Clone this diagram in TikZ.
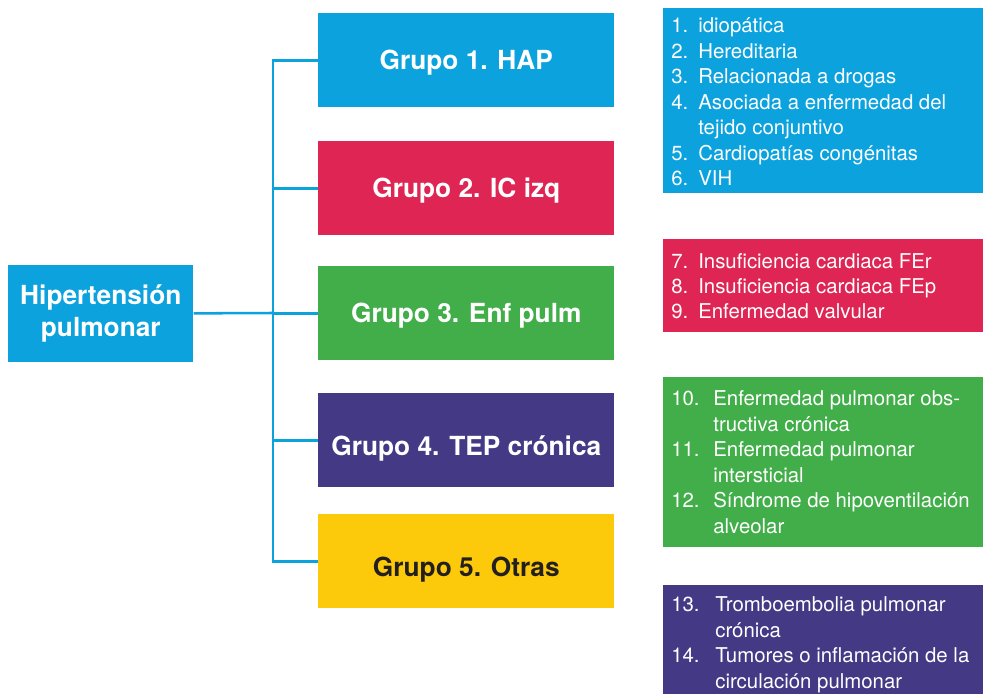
\documentclass[tikz,border=0pt]{standalone}
\usepackage{fontspec}
\setmainfont{TeX Gyre Heros}
\usepackage{array}
\definecolor{hapblue}{HTML}{0BA2DE}
\definecolor{hapred}{HTML}{DE2553}
\definecolor{hapgreen}{HTML}{41AE4A}
\definecolor{happurple}{HTML}{433985}
\definecolor{hapyellow}{HTML}{FCCA0A}
\definecolor{hapdark}{HTML}{231F20}
\tikzset{
  hbox/.style={rectangle, anchor=north west, inner sep=0pt, text=white, font=\fontsize{18.7}{22.5}\selectfont\bfseries},
  grp/.style={hbox, minimum width=7.4cm, minimum height=2.35cm, text height=18pt, text depth=4.5pt},
  lst/.style={rectangle, anchor=north west, inner sep=0pt, minimum width=8cm},
  itm/.style={anchor=base west, inner sep=0pt, text=white, font=\fontsize{14.5}{18.1}\selectfont},
  link/.style={draw=hapblue, line width=1.8pt}
}
\begin{document}
\begin{tikzpicture}[x=0.025cm, y=-0.025cm]
\useasboundingbox (0,0) rectangle (984,694);
\node[hbox, fill=hapblue, minimum width=4.625cm, minimum height=2.425cm, align=center] (root) at (8,265) {Hipertensión\\pulmonar};
\node[grp, fill=hapblue] (g1) at (318,13) {Grupo 1. HAP};
\node[grp, fill=hapred] (g2) at (318,141) {Grupo 2. IC izq};
\node[grp, fill=hapgreen] (g3) at (318,266) {Grupo 3. Enf pulm};
\node[grp, fill=happurple, text height=26.6pt] (g4) at (318,393) {Grupo 4. TEP crónica};
\node[grp, fill=hapyellow, text=hapdark, text height=26.6pt] (g5) at (318,514) {Grupo 5. Otras};
\coordinate (bus) at (273,313);
\draw[link] (root) -- (bus);
\foreach \g in {g1,g2,g3,g4,g5}
  \draw[link] (bus) |- (\g.west);
\node[lst, fill=hapblue, minimum height=4.625cm] (b1) at (663,8) {};
\node[itm] (l1) at ([xshift=0.2cm, yshift=-0.62cm]b1.north west) {\begin{tabular}[t]{@{}p{19.2pt}@{}l@{}}
1. & idiopática\\
2. & Hereditaria\\
3. & Relacionada a drogas\\
4. & Asociada a enfermedad del\\
   & tejido conjuntivo\\
5. & Cardiopatías congénitas\\
6. & VIH
\end{tabular}};
\node[lst, fill=hapred, minimum height=2.325cm] (b2) at (663,239) {};
\node[itm] (l2) at ([xshift=0.2cm, yshift=-0.725cm]b2.north west) {\begin{tabular}[t]{@{}p{19.2pt}@{}l@{}}
7. & Insuficiencia cardiaca FEr\\
8. & Insuficiencia cardiaca FEp\\
9. & Enfermedad valvular
\end{tabular}};
\node[lst, fill=hapgreen, minimum height=4.25cm] (b3) at (663,377) {};
\node[itm] (l3) at ([xshift=0.2cm, yshift=-0.72cm]b3.north west) {\begin{tabular}[t]{@{}p{29.9pt}@{}l@{}}
10. & Enfermedad pulmonar obs-\\
    & tructiva crónica\\
11. & Enfermedad pulmonar\\
    & intersticial\\
12. & Síndrome de hipoventilación\\
    & alveolar
\end{tabular}};
\node[lst, fill=happurple, minimum height=3.125cm] (b4) at (663,585) {};
\node[itm] (l4) at ([xshift=0.2cm, yshift=-0.67cm]b4.north west) {\begin{tabular}[t]{@{}p{31.3pt}@{}l@{}}
13. & Tromboembolia pulmonar\\
    & crónica\\
14. & Tumores o inflamación de la\\
    & circulación pulmonar
\end{tabular}};
\end{tikzpicture}
\end{document}
